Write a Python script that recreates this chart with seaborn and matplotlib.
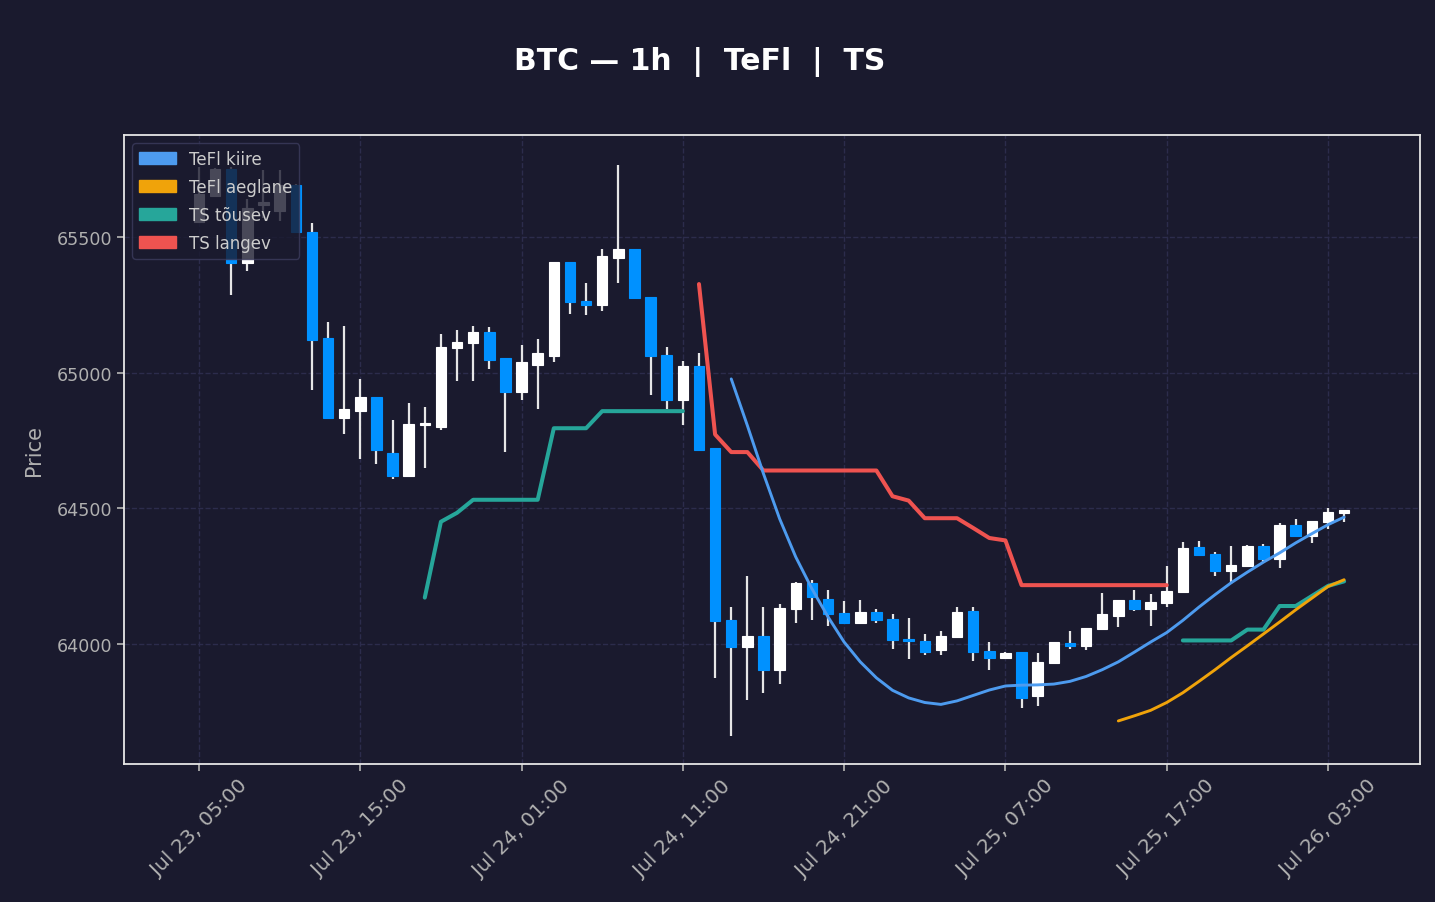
import numpy as np
import pandas as pd
import seaborn as sns
import matplotlib
matplotlib.use("Agg")
import matplotlib.pyplot as plt
from matplotlib.patches import Patch

# hourly candles, Jul 23 05:00 -> Jul 26 04:00
start_time = "2024-07-23 05:00"
opens = [65558, 65654, 65754, 65404, 65620, 65597, 65695, 65521, 65128, 64833,
         64861, 64910, 64705, 64619, 64808, 64800, 65091, 65109, 65150, 65054,
         64929, 65031, 65064, 65408, 65264, 65252, 65425, 65457, 65279, 65066,
         64902, 65025, 64722, 64090, 63989, 64029, 63903, 64128, 64226, 64166,
         64115, 64076, 64118, 64093, 64020, 64012, 63976, 64026, 64122, 63974,
         63950, 63970, 63808, 63930, 64004, 63992, 64054, 64105, 64162, 64128,
         64151, 64192, 64357, 64331, 64269, 64287, 64361, 64313, 64439, 64398,
         64450, 64484]
highs = [65760, 65756, 65760, 65640, 65748, 65748, 65697, 65555, 65187, 65172,
         64978, 64912, 64827, 64889, 64875, 65144, 65158, 65173, 65170, 65056,
         65103, 65125, 65410, 65410, 65332, 65457, 65767, 65459, 65281, 65095,
         65044, 65074, 64724, 64136, 64252, 64136, 64146, 64228, 64237, 64200,
         64158, 64163, 64130, 64112, 64097, 64038, 64046, 64136, 64136, 64007,
         63972, 63972, 63968, 64007, 64049, 64059, 64189, 64162, 64200, 64185,
         64287, 64377, 64381, 64341, 64361, 64365, 64370, 64447, 64461, 64453,
         64501, 64493]
lows = [65552, 65650, 65287, 65377, 65570, 65560, 65519, 64938, 64829, 64775,
        64683, 64665, 64607, 64617, 64651, 64791, 64972, 64972, 65015, 64710,
        64902, 64867, 65042, 65217, 65215, 65230, 65332, 65275, 64919, 64867,
        64808, 64717, 63876, 63659, 63792, 63820, 63854, 64078, 64087, 64065,
        64076, 64076, 64078, 63983, 63946, 63958, 63958, 64026, 63938, 63903,
        63946, 63762, 63770, 63930, 63983, 63976, 64054, 64061, 64120, 64068,
        64135, 64192, 64327, 64250, 64221, 64287, 64303, 64282, 64394, 64373,
        64425, 64449]
closes = [65659, 65754, 65404, 65610, 65632, 65695, 65519, 65123, 64833, 64867,
          64910, 64717, 64619, 64811, 64813, 65095, 65113, 65150, 65049, 64929,
          65039, 65073, 65408, 65261, 65250, 65430, 65457, 65275, 65061, 64899,
          65025, 64717, 64083, 63989, 64029, 63903, 64133, 64226, 64172, 64109,
          64076, 64118, 64087, 64013, 64012, 63970, 64029, 64118, 63970, 63948,
          63968, 63801, 63933, 64007, 63992, 64059, 64110, 64162, 64128, 64155,
          64195, 64354, 64327, 64269, 64291, 64361, 64313, 64439, 64398, 64453,
          64487, 64493]

# indicator lines (start = candle index of first value)
tefl_fast_start = 33
tefl_fast = [64978, 64806, 64628, 64462, 64321, 64204, 64100, 64007, 63934, 63875,
             63829, 63801, 63784, 63777, 63790, 63810, 63830, 63845, 63848, 63849,
             63852, 63862, 63880, 63905, 63934, 63970, 64007, 64042, 64087, 64136,
             64182, 64226, 64265, 64302, 64336, 64373, 64407, 64440, 64468]
tefl_slow_start = 57
tefl_slow = [63716, 63735, 63755, 63784, 63820, 63862, 63905, 63950, 63993, 64037,
             64081, 64126, 64169, 64212, 64237]
ts_up_a_start = 14
ts_up_a = [64171, 64451, 64484, 64532, 64532, 64532, 64532, 64532, 64796, 64796,
           64796, 64859, 64859, 64859, 64859, 64859, 64859]
ts_up_b_start = 61
ts_up_b = [64013, 64013, 64013, 64013, 64053, 64053, 64140, 64140, 64177, 64214, 64231]
ts_down_start = 31
ts_down = [65328, 64773, 64708, 64708, 64640, 64640, 64640, 64640, 64640, 64640,
           64640, 64640, 64545, 64529, 64464, 64464, 64464, 64428, 64391, 64382,
           64217, 64217, 64217, 64217, 64217, 64217, 64217, 64217, 64217, 64217]

BG = "#1a1a2e"
C_UP = "#ffffff"
C_DOWN = "#0091ff"
C_FAST = "#4d9bef"
C_SLOW = "#f0a30a"
C_TSUP = "#26a69a"
C_TSDN = "#ef5350"

sns.set_theme(style="dark", rc={
    "figure.facecolor": BG, "axes.facecolor": BG, "savefig.facecolor": BG,
    "axes.edgecolor": "#e6e6e6", "axes.labelcolor": "#b0b0b0",
    "xtick.color": "#b0b0b0", "ytick.color": "#b0b0b0", "text.color": "white",
    "grid.color": "#2c2c4c", "grid.linestyle": "--", "axes.grid": True,
})
plt.rcParams["font.family"] = ["DejaVu Sans"]

df = pd.DataFrame({"time": pd.date_range(start_time, periods=len(opens), freq="h"),
                   "open": opens, "high": highs, "low": lows, "close": closes})
df["x"] = np.arange(len(df))
df["up"] = df["close"] >= df["open"]

fig = plt.figure(figsize=(14.35, 9.03), dpi=100)
ax = fig.add_axes([0.0864, 0.1528, 0.9031, 0.6966])

# wicks
ax.vlines(df["x"], df["low"], df["high"], color="#e6e6e6", lw=1.6, zorder=2)
# bodies
body = (df["close"] - df["open"]).abs().clip(lower=7)
bottom = df[["open", "close"]].min(axis=1)
colors = np.where(df["up"], C_UP, C_DOWN)
ax.bar(df["x"], body, bottom=bottom, width=0.65, color=colors,
       edgecolor=colors, linewidth=0.8, zorder=3)


def draw_line(values, start, color, lw):
    xs = np.arange(start, start + len(values))
    sns.lineplot(x=xs, y=values, ax=ax, color=color, lw=lw, zorder=4)


draw_line(ts_up_a, ts_up_a_start, C_TSUP, 2.9)
draw_line(ts_up_b, ts_up_b_start, C_TSUP, 2.9)
draw_line(ts_down, ts_down_start, C_TSDN, 2.9)
draw_line(tefl_slow, tefl_slow_start, C_SLOW, 2.1)
draw_line(tefl_fast, tefl_fast_start, C_FAST, 2.1)

ax.set_xlim(-4.65, 75.7)
ax.set_ylim(63557, 65878)
ax.set_yticks([64000, 64500, 65000, 65500])
ax.tick_params(axis="y", labelsize=12.6, length=5, left=True)
ticks = list(range(0, len(df), 10))
ax.set_xticks(ticks)
ax.set_xticklabels([df["time"][i].strftime("%b %d, %H:%M") for i in ticks],
                   rotation=45, ha="center", fontsize=14.5)
ax.tick_params(axis="x", length=5, bottom=True)
ax.grid(True, color="#2c2c4c", linestyle="--", lw=1)
ax.set_xlabel("")
ax.set_ylabel("Price", fontsize=15, color="#b0b0b0", labelpad=9)
for s in ax.spines.values():
    s.set_color("#e6e6e6")
    s.set_linewidth(1.3)

handles = [Patch(color=C_FAST, label="TeFl kiire"),
           Patch(color=C_SLOW, label="TeFl aeglane"),
           Patch(color=C_TSUP, label="TS tõusev"),
           Patch(color=C_TSDN, label="TS langev")]
leg = ax.legend(handles=handles, loc="upper left", fontsize=12, frameon=True,
                facecolor=BG, edgecolor="#3c3c5e", framealpha=0.8,
                borderaxespad=0.5, labelspacing=0.6, handlelength=2.2)
for t in leg.get_texts():
    t.set_color("#cccccc")

fig.suptitle("BTC — 1h  |  TeFl  |  TS", x=0.4875, y=0.931, va="center",
             fontsize=21.5, fontweight="bold", color="white")

fig.savefig("out.png", dpi=100)
